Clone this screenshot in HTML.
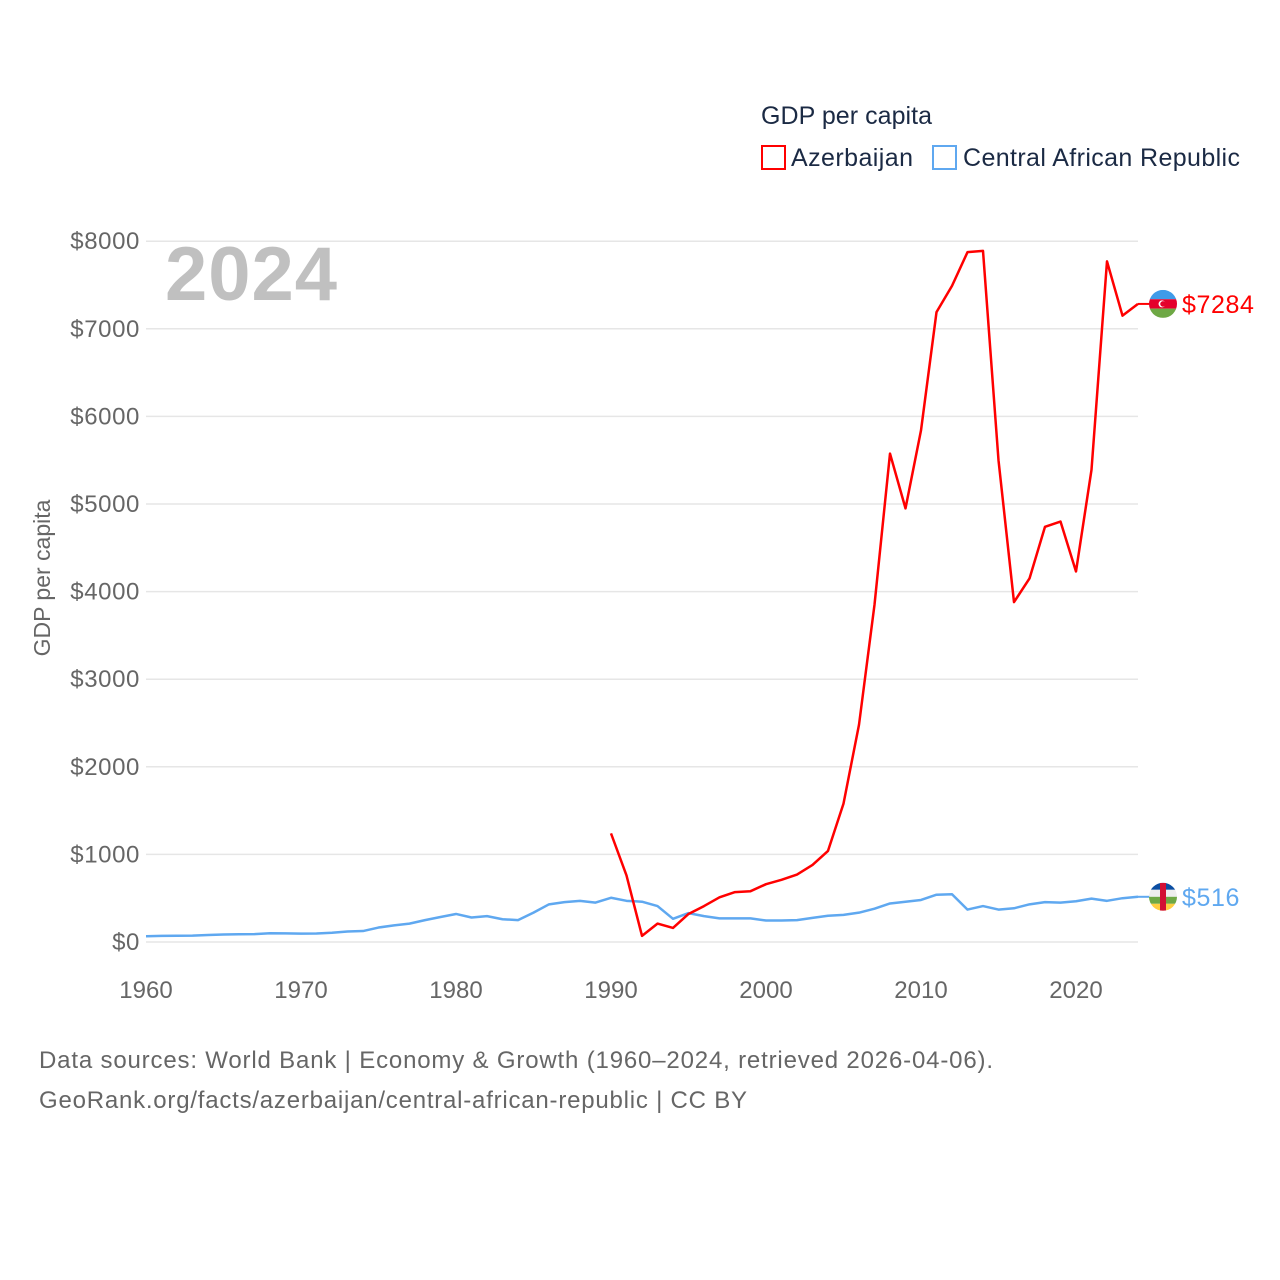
<!DOCTYPE html>
<html><head><meta charset="utf-8"><style>
html,body{margin:0;padding:0;background:#fff;}
svg{display:block;font-family:"Liberation Sans",sans-serif;}
</style></head><body>
<svg id="chart" width="1280" height="1280" xmlns="http://www.w3.org/2000/svg">
<text x="761" y="124" font-size="25" fill="#1b2a44" textLength="171">GDP per capita</text>
<g>
<rect x="762" y="146" width="23" height="23" fill="none" stroke="#ff0000" stroke-width="2"/>
<text x="791" y="166" font-size="25" fill="#1b2a44" textLength="122">Azerbaijan</text></g>
<g>
<rect x="933" y="146" width="23" height="23" fill="none" stroke="#5fa8f0" stroke-width="2"/>
<text x="963" y="166" font-size="25" fill="#1b2a44" textLength="277">Central African Republic</text></g>
<g id="grid"></g>
<text x="165" y="300" font-size="76" font-weight="bold" fill="#c0c0c0" textLength="172">2024</text>
<text transform="translate(50,578) rotate(-90)" text-anchor="middle" font-size="23" fill="#666">GDP per capita</text>
<g id="series"></g>
<text x="39" y="1068" font-size="24" fill="#666" textLength="954">Data sources: World Bank | Economy &amp; Growth (1960–2024, retrieved 2026-04-06).</text>
<text x="39" y="1108" font-size="24" fill="#666" textLength="708">GeoRank.org/facts/azerbaijan/central-african-republic | CC BY</text>
</svg>
<script>
const yTicks=[0,1000,2000,3000,4000,5000,6000,7000,8000];
const xTicks=[1960,1970,1980,1990,2000,2010,2020];
const carYears=[];for(let y=1960;y<=2024;y++)carYears.push(y);
const carValues=[65,70,72,73,80,85,88,90,100,98,96,97,105,120,125,165,190,210,250,285,320,280,295,260,250,335,430,455,470,450,505,470,460,410,265,330,295,270,270,270,245,245,250,275,300,310,335,380,440,460,480,540,545,370,410,370,385,430,455,450,465,495,470,500,516];
const azYears=[];for(let y=1990;y<=2024;y++)azYears.push(y);
const azValues=[1240,760,70,210,160,320,410,510,570,580,660,710,770,880,1040,1580,2480,3850,5575,4950,5840,7190,7490,7875,7890,5500,3880,4150,4740,4800,4230,5390,7770,7150,7284];
const NS="http://www.w3.org/2000/svg";
const X=y=>146+(y-1960)*15.5;
const Y=v=>942-v*0.0876;
const grid=document.getElementById('grid'),ser=document.getElementById('series');
function mk(tag,attrs,parent){const e=document.createElementNS(NS,tag);for(const k in attrs)e.setAttribute(k,attrs[k]);parent.appendChild(e);return e;}
yTicks.forEach(v=>{
 const l=mk('line',{x1:146,x2:1138,y1:Y(v),y2:Y(v),stroke:'#e6e6e6','stroke-width':1.5},grid);
 
 
 const t=mk('text',{x:140,y:Y(v)+8,'text-anchor':'end','font-size':24,fill:'#666','letter-spacing':'0.6'},grid);
 t.textContent='$'+v;
 
 
});
xTicks.forEach(y=>{
 const t=mk('text',{x:X(y),y:998,'text-anchor':'middle','font-size':24,fill:'#666'},grid);
 t.textContent=y;
 
 
});
function line(years,vals,color,name){
 const d=years.map((y,i)=>(i?'L':'M')+X(y)+' '+Y(vals[i])).join(' ');
 const p=mk('path',{d:d,fill:'none',stroke:color,'stroke-width':2.5,'stroke-linejoin':'round'},ser);
 
 
}
line(carYears,carValues,'#5fa8f0','line-central-african-republic');
line(azYears,azValues,'#ff0000','line-azerbaijan');
function endLabel(vals,color,name,flag){
 const v=vals[vals.length-1],y=Y(v);
 mk('line',{x1:1138,x2:1150,y1:y,y2:y,stroke:color,'stroke-width':2},ser);
 const g=mk('g',{},ser);
 
 
 const cid='clip'+name;
 const cp=mk('clipPath',{id:cid},g);mk('circle',{cx:1163,cy:y,r:14},cp);
 const gg=mk('g',{'clip-path':'url(#'+cid+')'},g);
 if(flag==='az'){
  mk('rect',{x:1149,y:y-14,width:28,height:9.3,fill:'#3f9be8'},gg);
  mk('rect',{x:1149,y:y-4.7,width:28,height:9.4,fill:'#e4002b'},gg);
  mk('rect',{x:1149,y:y+4.7,width:28,height:9.3,fill:'#6ea845'},gg);
  mk('circle',{cx:1162,cy:y,r:3.5,fill:'#fff'},gg);mk('circle',{cx:1163,cy:y,r:2.8,fill:'#e4002b'},gg);
 }else{
  const c=['#0b4ea2','#eeeeee','#6ea845','#ffce40'];
  c.forEach((f,i)=>mk('rect',{x:1149,y:y-14+i*7,width:28,height:7,fill:f},gg));
  mk('rect',{x:1160,y:y-14,width:6,height:28,fill:'#d21034'},gg);
 }
 const t=mk('text',{x:1182,y:y+9,'font-size':25,fill:color,'letter-spacing':'0.6'},ser);
 t.textContent='$'+v;
 
 
}
endLabel(azValues,'#ff0000','azerbaijan','az');
endLabel(carValues,'#5fa8f0','car','car');
</script>
</body></html>
